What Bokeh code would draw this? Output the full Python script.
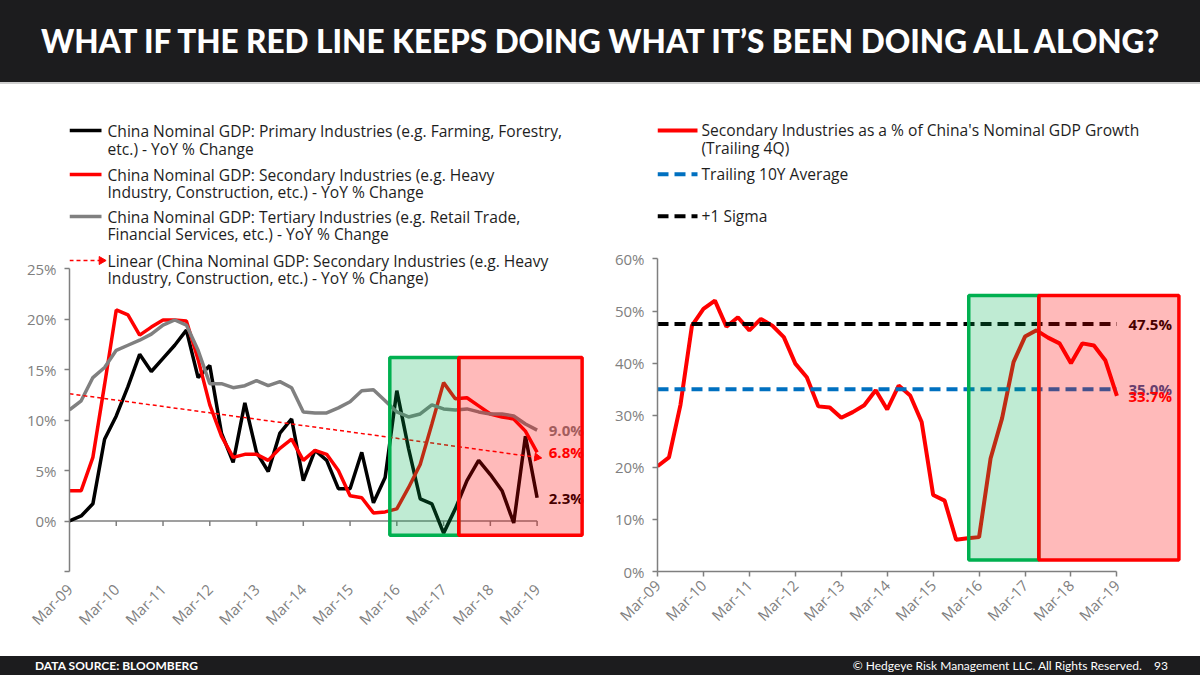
import math

from bokeh.core.properties import value
from bokeh.embed import file_html
from bokeh.layouts import column, row
from bokeh.models import Div, FixedTicker, Label, PrintfTickFormatter, Range1d
from bokeh.plotting import figure
from bokeh.resources import INLINE

# ---- data: quarterly, Mar-09 .. Mar-19 (index 0..40) ----
quarters = list(range(41))
tick_pos = list(range(0, 41, 4))
tick_labels = ["Mar-09", "Mar-10", "Mar-11", "Mar-12", "Mar-13", "Mar-14",
               "Mar-15", "Mar-16", "Mar-17", "Mar-18", "Mar-19"]

# China nominal GDP YoY % change by industry
primary = [0.0, 0.5, 1.7, 8.1, 10.4, 13.3, 16.5, 14.8, 16.1, 17.4, 18.9, 14.2,
           15.4, 8.7, 5.8, 11.7, 6.8, 4.9, 8.7, 10.1, 4.0, 7.0, 6.0, 3.2, 3.2,
           6.8, 1.8, 4.3, 12.9, 7.2, 2.2, 1.7, -1.2, 1.2, 4.0, 6.0, 4.6, 3.0,
           -0.2, 8.4, 2.3]
secondary = [3.0, 3.0, 6.3, 13.5, 20.9, 20.4, 18.4, 19.2, 19.9, 19.9, 19.8,
             16.0, 11.5, 8.4, 6.3, 6.6, 6.6, 6.0, 7.2, 8.1, 6.0, 7.0, 6.6, 5.0,
             2.5, 2.3, 0.8, 0.9, 1.2, 3.3, 5.6, 9.6, 13.7, 12.1, 12.2, 11.4,
             10.6, 10.3, 10.1, 8.9, 6.8]
tertiary = [11.0, 11.9, 14.2, 15.2, 16.9, 17.4, 17.9, 18.5, 19.4, 19.9, 19.4,
            16.9, 13.6, 13.6, 13.2, 13.4, 13.9, 13.4, 13.8, 13.2, 10.8, 10.7,
            10.7, 11.2, 11.8, 12.9, 13.0, 11.9, 10.8, 10.3, 10.6, 11.5, 11.1,
            11.0, 11.1, 10.8, 10.6, 10.6, 10.4, 9.6, 9.0]
# linear trend of the secondary series, at Mar-09 and Mar-19
trend_x = [0, 40]
trend_y = [12.6, 6.3]

# secondary industries as % of nominal GDP growth (trailing 4Q)
share = [20.2, 21.9, 32.0, 47.2, 50.4, 52.0, 47.0, 48.8, 46.3, 48.5, 47.2, 45.0,
         39.9, 37.3, 31.7, 31.5, 29.5, 30.6, 31.9, 34.8, 31.1, 35.7, 33.8, 28.7,
         14.7, 13.6, 6.1, 6.4, 6.6, 21.7, 29.4, 40.2, 45.1, 46.3, 44.9, 43.8,
         40.0, 43.8, 43.4, 40.5, 33.7]
avg_10y = 35.0
plus_sigma = 47.5

# highlighted periods: [green start, green end / red start, red end], [bottom, top]
left_box_x = [27.4, 33.3, 43.85]
left_box_y = [-1.4, 16.2]
right_box_x = [27.1, 33.2, 45.4]
right_box_y = [2.2, 53.0]

TITLE = "WHAT IF THE RED LINE KEEPS DOING WHAT IT\u2019S BEEN DOING ALL ALONG?"
FONT = "Open Sans"
GRAY = "#7f7f7f"
TEXT = "#1e1e1e"
GREEN = "#00B050"
RED = "#FF0000"
BLUE = "#0070C0"

W, H = 600, 572


def style_axes(p, yticks, xaxis_line=True):
    p.xgrid.visible = False
    p.ygrid.visible = False
    p.outline_line_color = None
    for ax in (p.xaxis[0], p.yaxis[0]):
        ax.axis_line_color = GRAY
        ax.axis_line_width = 1.5
        ax.major_tick_line_color = GRAY
        ax.major_tick_line_width = 1.5
        ax.major_tick_out = 5
        ax.major_tick_in = 0
        ax.minor_tick_line_color = None
        ax.major_label_text_color = GRAY
        ax.major_label_text_font = FONT
    ax = p.yaxis[0]
    ax.ticker = FixedTicker(ticks=yticks)
    ax.bounds = (yticks[0], yticks[-1])
    ax.formatter = PrintfTickFormatter(format="%d%%")
    ax.major_label_text_font_size = "15px"
    ax.major_label_standoff = 8
    ax = p.xaxis[0]
    ax.ticker = FixedTicker(ticks=tick_pos)
    ax.major_label_overrides = {t: lab for t, lab in zip(tick_pos, tick_labels)}
    ax.major_label_orientation = math.pi / 4
    ax.major_label_text_font_size = "15px"
    ax.major_label_standoff = 6
    ax.bounds = (tick_pos[0], tick_pos[-1])
    if not xaxis_line:
        ax.axis_line_color = None
        ax.major_tick_line_color = None
        ax.major_label_standoff = 10


def make_fig(border, q_px, unit_px, y_low):
    fw = W - border["left"] - border["right"]
    fh = H - border["top"] - border["bottom"]
    p = figure(width=W, height=H, output_backend="svg", toolbar_location=None,
               x_range=Range1d(0, fw / q_px),
               y_range=Range1d(y_low, y_low + fh / unit_px),
               min_border_left=border["left"], min_border_right=border["right"],
               min_border_top=border["top"], min_border_bottom=border["bottom"],
               background_fill_color="white", border_fill_color="white")

    def fx(lx):
        return (lx - border["left"]) / q_px

    def fy(ly):
        return y_low + (H - border["bottom"] - ly) / unit_px

    return p, fx, fy


def legend(p, fx, fy, entries, x0, x1, xt):
    for color, dash, width, ys, lines, arrow in entries:
        p.line([fx(x0), fx(x1)], [fy(ys[0])] * 2, line_color=color,
               line_width=width, line_dash=dash)
        if arrow:
            p.scatter([fx(x1)], [fy(ys[0])], marker="triangle", size=8,
                      angle=-math.pi / 2, fill_color=color, line_color=color)
        p.text([fx(xt)] * len(lines), [fy(y) for y in ys[:len(lines)]], text=lines,
               text_font=value(FONT), text_font_size="15.6px", text_color=TEXT,
               text_baseline="middle", text_align="left")


def boxes(p, bx, by):
    p.quad(left=[bx[0]], right=[bx[1]], bottom=[by[0]], top=[by[1]],
           fill_color=GREEN, fill_alpha=0.25, line_color=GREEN, line_width=3.5)
    p.quad(left=[bx[1]], right=[bx[2]], bottom=[by[0]], top=[by[1]],
           fill_color=RED, fill_alpha=0.27, line_color=RED, line_width=3.5)


def end_labels(p, vals, colors):
    p.text([quarters[-1] + 1] * len(vals), vals,
           text=["%.1f%%" % v for v in vals], text_color=colors,
           text_font=value(FONT), text_font_size="15px", text_font_style="bold",
           text_baseline="middle", text_align="left")


# ---- left chart ----
lb = dict(left=69, right=10, top=11, bottom=85)
l_qpx, l_upx = 11.69, 10.1
pl, lfx, lfy = make_fig(lb, l_qpx, l_upx, -5)
style_axes(pl, list(range(-5, 26, 5)), xaxis_line=False)
pl.yaxis[0].major_label_overrides = {-5: ""}
pl.add_layout(Label(x=0, y=-5, x_offset=-13, text="-5%", text_align="right",
                    text_baseline="middle", text_color=RED, text_font=FONT,
                    text_font_size="15px"))

# horizontal axis line at 0% with its ticks
pl.line([tick_pos[0], tick_pos[-1]], [0, 0], line_color=GRAY, line_width=1.5)
pl.segment(x0=tick_pos[1:], y0=0, x1=tick_pos[1:], y1=-5 / l_upx,
           line_color=GRAY, line_width=1.5)

pl.line(quarters, primary, line_color="black", line_width=3.5)
pl.line(quarters, secondary, line_color=RED, line_width=3.5)
pl.line(quarters, tertiary, line_color="#808080", line_width=3.5)
pl.line(trend_x, trend_y, line_color=RED, line_width=1.5, line_dash="4 3")
slope = math.atan2((trend_y[1] - trend_y[0]) * l_upx, (trend_x[1] - trend_x[0]) * l_qpx)
pl.scatter([trend_x[1]], [trend_y[1]], marker="triangle", size=8,
           angle=-math.pi / 2 + slope, fill_color=RED, line_color=RED)
end_labels(pl, [tertiary[-1], secondary[-1], primary[-1]], ["#808080", RED, "black"])

legend(pl, lfx, lfy, [
    ("black", "solid", 3.5, [46, 64],
     ["China Nominal GDP: Primary Industries (e.g. Farming, Forestry,",
      "etc.) - YoY % Change"], False),
    (RED, "solid", 3.5, [90, 107],
     ["China Nominal GDP: Secondary Industries (e.g. Heavy",
      "Industry, Construction, etc.) - YoY % Change"], False),
    ("#808080", "solid", 3.5, [132, 149],
     ["China Nominal GDP: Tertiary Industries (e.g. Retail Trade,",
      "Financial Services, etc.) - YoY % Change"], False),
    (RED, "4 3", 1.5, [176, 193],
     ["Linear (China Nominal GDP: Secondary Industries (e.g. Heavy",
      "Industry, Construction, etc.) - YoY % Change)"], True),
], 69, 101, 107)
boxes(pl, left_box_x, left_box_y)

# ---- right chart ----
rb = dict(left=57, right=14, top=11, bottom=84)
r_qpx, r_upx = 11.485, 5.22
pr, rfx, rfy = make_fig(rb, r_qpx, r_upx, 0)
style_axes(pr, list(range(0, 61, 10)))

pr.line(quarters, share, line_color=RED, line_width=4)
pr.line([quarters[0], quarters[-1]], [avg_10y] * 2, line_color=BLUE,
        line_width=4, line_dash="11 6")
pr.line([quarters[0], quarters[-1]], [plus_sigma] * 2, line_color="black",
        line_width=4, line_dash="11 6")
end_labels(pr, [plus_sigma, avg_10y, share[-1]], ["black", "#2F5597", RED])

legend(pr, rfx, rfy, [
    (RED, "solid", 4, [46, 64],
     ["Secondary Industries as a % of China's Nominal GDP Growth",
      "(Trailing 4Q)"], False),
    (BLUE, "11 6", 4, [90], ["Trailing 10Y Average"], False),
    ("black", "11 6", 4, [132], ["+1 Sigma"], False),
], 57, 97, 101)
boxes(pr, right_box_x, right_box_y)

# ---- title and footer bars ----
title = Div(width=1200, height=84, margin=0, text=(
    '<div style="width:1200px;height:84px;box-sizing:border-box;'
    'background:#1c1c1e;border-bottom:2px solid #cfcfcf;display:flex;'
    'align-items:center;justify-content:center;color:#fff;font-family:Lato;'
    'font-weight:900;font-size:31.5px;">' + TITLE + '</div>'))
footer = Div(width=1200, height=19, margin=0, text=(
    '<div style="width:1200px;height:19px;box-sizing:border-box;'
    'background:#1c1c1e;display:flex;align-items:center;'
    'justify-content:space-between;color:#fff;font-family:Lato;font-size:12px;'
    'padding:0 32px 0 35px;">'
    '<span style="font-weight:bold;">DATA SOURCE: BLOOMBERG</span>'
    '<span>\u00a9 Hedgeye Risk Management LLC. All Rights Reserved.'
    '&nbsp;&nbsp;&nbsp;&nbsp;93</span></div>'))

page = column(title, row(pl, pr, spacing=0), footer, spacing=0)
open("out.html", "w").write(file_html(page, INLINE))
